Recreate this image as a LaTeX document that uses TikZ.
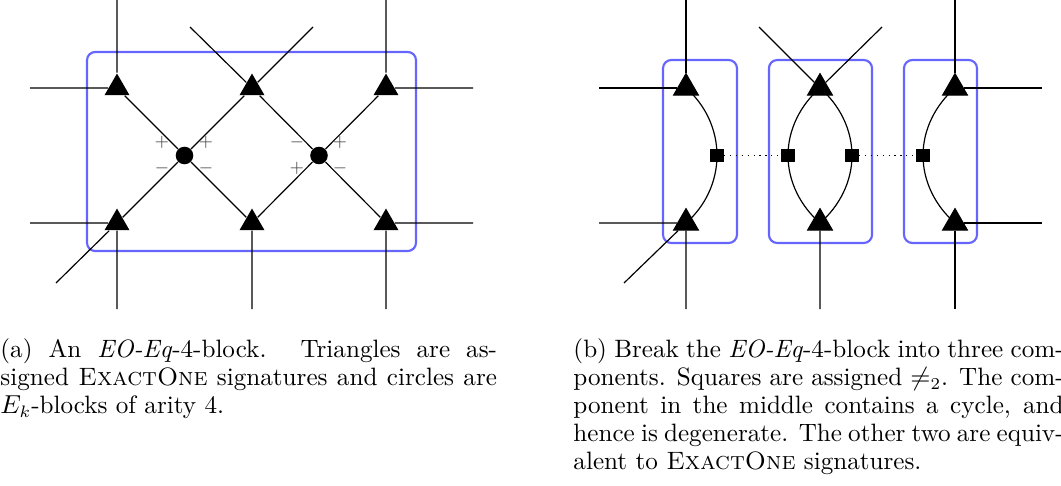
\documentclass[tikz,border=0pt]{standalone}
\usetikzlibrary{shapes.geometric}
\begin{document}
\begin{tikzpicture}[x=0.4219pt,y=-0.4219pt,
  tri/.style={regular polygon,regular polygon sides=3,fill=black,inner sep=0pt,minimum size=12.2pt},
  bdot/.style={circle,fill=black,inner sep=0pt,minimum size=7.4pt},
  sqn/.style={rectangle,fill=black,inner sep=0pt,minimum size=5.4pt},
  wire/.style={line width=0.5pt},
  blk/.style={draw=blue!60,line width=0.9pt,rounded corners=3.5pt,inner sep=0pt},
  sgn/.style={font=\scriptsize,text=black!70,inner sep=0pt},
  captext/.style={align=justify,inner sep=0pt,anchor=north west,
    font=\fontsize{10.6}{11.8}\selectfont}]
\useasboundingbox (0,0) rectangle (1061,485);
\clip (0,0) rectangle (1061,485);
% ---------- panel (a) ----------
\node[blk,minimum width=138.8pt,minimum height=84pt] (boxa) at (251.5,151.5) {};
\node[tri] (T1) at (117,88) {};
\node[tri] (T2) at (252,88) {};
\node[tri] (T3) at (386,88) {};
\node[tri] (T4) at (117,223) {};
\node[tri] (T5) at (252,223) {};
\node[tri] (T6) at (386,223) {};
\node[bdot] (C1) at (184.5,155.5) {};
\node[bdot] (C2) at (319,155.5) {};
\coordinate (a1) at (117,0);
\coordinate (a2) at (30,88);
\coordinate (a3) at (190,27);
\coordinate (a4) at (313,27);
\coordinate (a5) at (386,0);
\coordinate (a6) at (473,88);
\coordinate (a7) at (30,223);
\coordinate (a8) at (117,309);
\coordinate (a9) at (56,283);
\coordinate (a10) at (252,309);
\coordinate (a11) at (473,223);
\coordinate (a12) at (386,309);
\draw[wire] (T1) -- (a1) (T1) -- (a2) (T1) -- (C1);
\draw[wire] (T2) -- (a3) (T2) -- (a4) (T2) -- (C1) (T2) -- (C2);
\draw[wire] (T3) -- (a5) (T3) -- (a6) (T3) -- (C2);
\draw[wire] (T4) -- (a7) (T4) -- (a8) (T4) -- (a9) (T4) -- (C1);
\draw[wire] (T5) -- (a10) (T5) -- (C1) (T5) -- (C2);
\draw[wire] (T6) -- (a11) (T6) -- (a12) (T6) -- (C2);
\node[sgn] (p1) at (162,142) {$+$};
\node[sgn] (p2) at (206,142) {$+$};
\node[sgn] (p3) at (162,168) {$-$};
\node[sgn] (p4) at (206,168) {$-$};
\node[sgn] (q1) at (297,142) {$-$};
\node[sgn] (q2) at (340,142) {$+$};
\node[sgn] (q3) at (297,168.5) {$+$};
\node[sgn] (q4) at (340,168) {$-$};
% ---------- panel (b) ----------
\node[blk,minimum width=31.2pt,minimum height=77.2pt] (boxl) at (700,151.5) {};
\node[blk,minimum width=43.5pt,minimum height=77.2pt] (boxm) at (820.5,151.5) {};
\node[blk,minimum width=30.8pt,minimum height=77.2pt] (boxr) at (940.5,151.5) {};
\coordinate (b1) at (686,0);
\coordinate (b2) at (599,88);
\coordinate (b3) at (599,223);
\coordinate (b4) at (686,309);
\coordinate (b5) at (624,283);
\coordinate (b6) at (759,27);
\coordinate (b7) at (882,27);
\coordinate (b8) at (820,309);
\coordinate (b9) at (955,0);
\coordinate (b10) at (1042,88);
\coordinate (b11) at (1042,223);
\coordinate (b12) at (955,309);
\node[tri] (U1) at (686,88) {};
\node[tri] (U2) at (820,88) {};
\node[tri] (U3) at (955,88) {};
\node[tri] (U4) at (686,223) {};
\node[tri] (U5) at (820,223) {};
\node[tri] (U6) at (955,223) {};
\node[sqn] (S1) at (717,155.5) {};
\node[sqn] (S2) at (788,155.5) {};
\node[sqn] (S3) at (852,155.5) {};
\node[sqn] (S4) at (923,155.5) {};
\draw[wire] (U1) -- (b1) (U1) -- (b2);
\draw[wire] (U4) -- (b3) (U4) -- (b4) (U4) -- (b5);
\draw[wire] (U2) -- (b6) (U2) -- (b7) (U5) -- (b8);
\draw[wire] (U3) -- (b9) (U3) -- (b10);
\draw[wire] (U6) -- (b11) (U6) -- (b12);
\draw[wire] (U1.center) to[out=-41,in=90,looseness=0.89] (S1.center)
                        to[out=-90,in=41,looseness=0.89] (U4.center);
\draw[wire] (U2.center) to[out=-139,in=90,looseness=0.89] (S2.center)
                        to[out=-90,in=139,looseness=0.89] (U5.center);
\draw[wire] (U2.center) to[out=-41,in=90,looseness=0.89] (S3.center)
                        to[out=-90,in=41,looseness=0.89] (U5.center);
\draw[wire] (U3.center) to[out=-139,in=90,looseness=0.89] (S4.center)
                        to[out=-90,in=139,looseness=0.89] (U6.center);
\draw[wire,dotted] (S1) -- (S2);
\draw[wire,dotted] (S3) -- (S4);
% redraw markers on top of the curves
\foreach \n in {U1,U2,U3,U4,U5,U6}{\fill (\n.corner 1) -- (\n.corner 2) -- (\n.corner 3) -- cycle;}
\foreach \n in {S1,S2,S3,S4}{\fill (\n.south west) rectangle (\n.north east);}
% ---------- captions ----------
\node[captext,text width=209.5pt] (capa) at (0,338) {(a) An \textit{EO-Eq}-4-block. Triangles are as-\linebreak signed \textsc{ExactOne} signatures and circles are\linebreak $E_k$-blocks of arity 4.};
\node[captext,text width=206.8pt] (capb) at (573,338) {(b) Break the \textit{EO-Eq}-4-block into three com-\linebreak ponents. Squares are assigned $\neq_2$. The com-\linebreak ponent in the middle contains a cycle, and\linebreak hence is degenerate. The other two are equiv-\linebreak alent to \textsc{ExactOne} signatures.};
\end{tikzpicture}
\end{document}
